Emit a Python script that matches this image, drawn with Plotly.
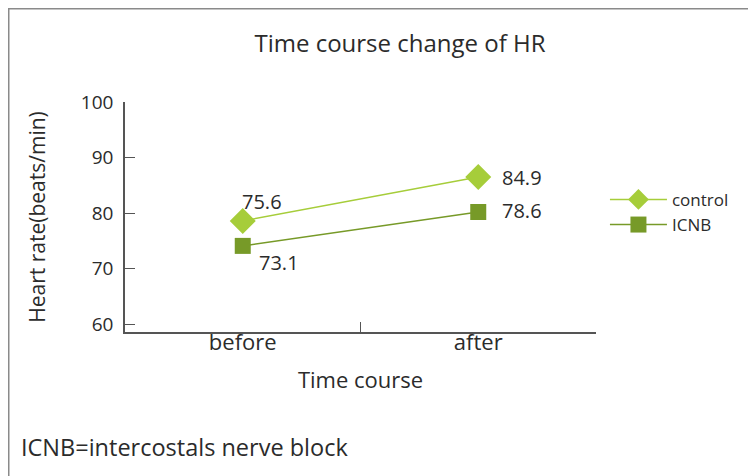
import plotly.graph_objects as go

categories = ["before", "after"]
control_values = [78.6, 86.5]
icnb_values = [74.1, 80.2]
control_labels = ["75.6", "84.9"]
icnb_labels = ["73.1", "78.6"]
y_ticks = [60, 70, 80, 90, 100]

FONT = "Open Sans"
TXT = "#2b2b2b"
CONTROL = "#a6cd3a"
ICNB = "#779a28"

# page offset compensation (body margin)
L, T, PW, PH = 117, 94, 471, 230
W, H = 756, 476

fig = go.Figure()
fig.add_trace(go.Scatter(
    x=categories, y=control_values, name="control", mode="lines+markers",
    line=dict(color=CONTROL, width=1.5),
    marker=dict(symbol="diamond", size=20, color=CONTROL),
))
fig.add_trace(go.Scatter(
    x=categories, y=icnb_values, name="ICNB", mode="lines+markers",
    line=dict(color=ICNB, width=1.5),
    marker=dict(symbol="square", size=16, color=ICNB),
))

label_offsets = {"control": [(19, 19), (44, 0)], "ICNB": [(36, -17), (44, 2)]}
annotations = []
for name, vals, labels in [("control", control_values, control_labels),
                           ("ICNB", icnb_values, icnb_labels)]:
    for i, (c, v, t) in enumerate(zip(categories, vals, labels)):
        dx, dy = label_offsets[name][i]
        annotations.append(dict(x=c, y=v, text=t, showarrow=False, xshift=dx, yshift=dy,
                                font=dict(family=FONT, size=20, color=TXT)))

annotations.append(dict(text="ICNB=intercostals nerve block", xref="paper", yref="paper",
                        x=(11 - L) / PW, y=(T + PH - 439) / PH, xanchor="left",
                        yanchor="middle", showarrow=False,
                        font=dict(size=23.5, color=TXT, family=FONT)))

fig.update_layout(
    width=W, height=H,
    margin=dict(l=L, r=W - L - PW, t=T, b=H - T - PH),
    paper_bgcolor="white", plot_bgcolor="white",
    font=dict(family=FONT, color=TXT),
    title=dict(text="Time course change of HR", x=392 / W, xanchor="center",
               y=1 - 36 / H, yanchor="middle", font=dict(size=24, color=TXT)),
    xaxis=dict(type="category", range=[-0.5, 1.5], showline=True, linecolor="#555",
               linewidth=1.5, ticks="inside", tickson="boundaries", ticklen=10,
               tickcolor="#555", showgrid=False, zeroline=False,
               tickfont=dict(size=22, color=TXT), ticklabelstandoff=-10,
               title=dict(text="Time course", font=dict(size=22, color=TXT), standoff=17)),
    yaxis=dict(range=[58.6, 100], tickvals=y_ticks, showline=True, linecolor="#555",
               linewidth=1.5, ticks="inside", ticklen=10, tickcolor="#555",
               showgrid=False, zeroline=False, tickfont=dict(size=19, color=TXT),
               ticklabelstandoff=6,
               title=dict(text="Heart rate(beats/min)", font=dict(size=21, color=TXT),
                          standoff=30)),
    legend=dict(x=1.019, y=0.52, xanchor="left", yanchor="middle",
                font=dict(size=17, color=TXT), tracegroupgap=0, itemsizing="trace",
                itemwidth=57, bgcolor="rgba(0,0,0,0)"),
    shapes=[dict(type="rect", xref="paper", yref="paper",
                 x0=(0.75 - L) / PW, x1=(743 - L) / PW,
                 y0=-2, y1=(T + PH - 0.75) / PH,
                 line=dict(color="#8a8a8a", width=1.5), fillcolor="rgba(0,0,0,0)")],
    annotations=annotations,
)

fig.write_html("out.html")
